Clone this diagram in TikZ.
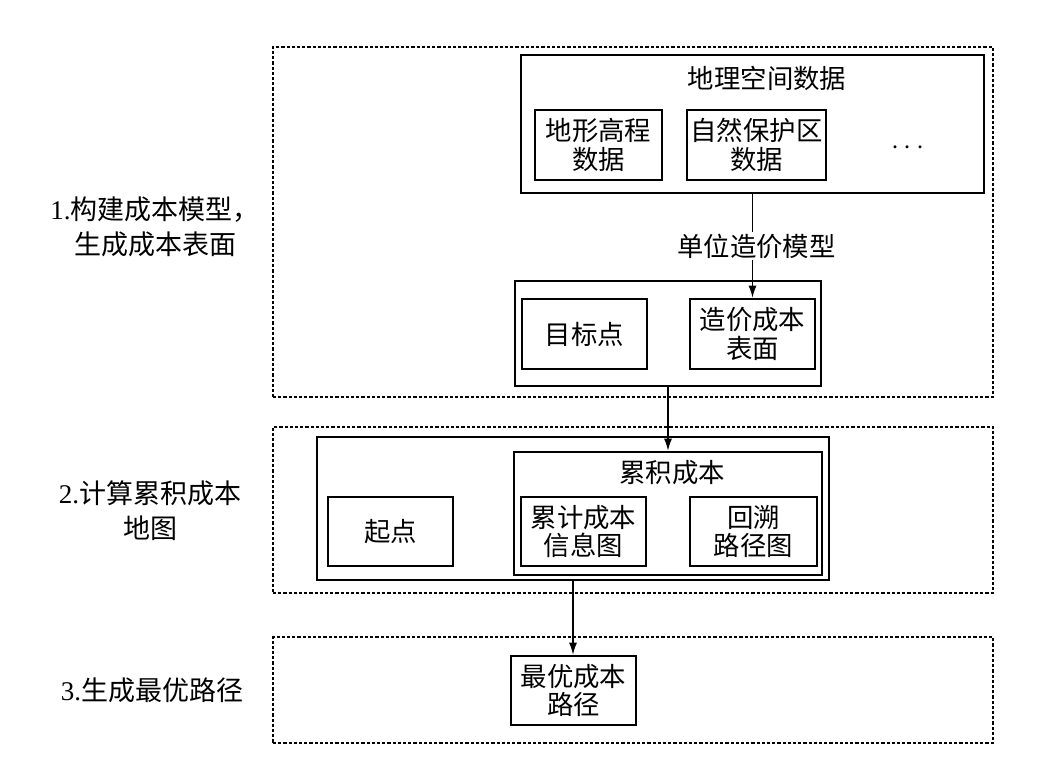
\documentclass[tikz,border=0pt]{standalone}
\usepackage{fontspec}
\setmainfont{Liberation Serif}
\newfontfamily\cjk{Noto Sans CJK SC}
\usetikzlibrary{arrows.meta}

\begin{document}
\begin{tikzpicture}[x=0.5pt,y=-0.5pt,
	caixa/.style={draw, line width=1.3pt, inner sep=0pt, align=center, font=\cjk\fontsize{13.2}{14.2}\selectfont},
	etapa/.style={draw, line width=0.7pt, dash pattern=on 1.6pt off 1pt, inner sep=0pt},
	texto/.style={align=center, inner sep=1pt, font=\cjk\fontsize{13.2}{14.2}\selectfont},
	lado/.style={align=center, font=\cjk\fontsize{13.5}{17.5}\selectfont},
	seta/.style={-{Latex[length=6pt,width=4pt]}, line width=0.6pt}]
\useasboundingbox (0,0) rectangle (1044,763); %Margens
					%Etapas
				\node[etapa, minimum width=360pt, minimum height=175pt] (e1) at (633,222) {}; %Etapa 1
				\node[etapa, minimum width=360pt, minimum height=83pt] (e2) at (633,510) {}; %Etapa 2
				\node[etapa, minimum width=360pt, minimum height=53pt] (e3) at (633,690) {}; %Etapa 3
				\node[lado] (r1) at (155,227) {\textrm{1.}构建成本模型，\\生成成本表面}; %Rotulo 1
				\node[lado] (r2) at (150,511) {\textrm{2.}计算累积成本\\地图}; %Rotulo 2
				\node[lado] (r3) at (152,690) {\textrm{3.}生成最优路径}; %Rotulo 3
					%Etapa 1
				\node[caixa, minimum width=231.5pt, minimum height=69pt] (geo) at (752.5,124) {}; %Dados geograficos
				\node[texto] (tgeo) at (767,78) {地理空间数据};
				\node[caixa, minimum width=63.5pt, minimum height=35pt] (dem) at (598.5,145) {地形高程\\数据};
				\node[caixa, minimum width=69.5pt, minimum height=35pt] (prot) at (756.5,145) {自然保护区\\数据};
				\node[font=\fontsize{15}{15}\selectfont] (dots) at (908,148) {$\cdots$};
				\node[caixa, minimum width=153pt, minimum height=52.5pt] (cm) at (668,333.5) {}; %Modelo de custo
				\node[caixa, minimum width=62.5pt, minimum height=35pt] (alvo) at (584.5,334) {目标点};
				\node[caixa, minimum width=62.5pt, minimum height=35pt] (sup) at (752.5,334) {造价成本\\表面};
				\draw[seta] (geo.south) -- node[texto, fill=white, xshift=2pt] (unit) {单位造价模型} (sup.north); %Seta 1
					%Etapa 2
				\node[caixa, minimum width=256pt, minimum height=71.5pt] (acum) at (573,508.5) {};
				\node[caixa, minimum width=154pt, minimum height=61.5pt] (acc) at (668,513.5) {}; %Custo acumulado
				\node[texto] (tacc) at (672,473) {累积成本};
				\node[caixa, minimum width=62.5pt, minimum height=34.5pt] (ini) at (390.5,531.5) {起点};
				\node[caixa, minimum width=62.5pt, minimum height=34.5pt] (mapa) at (583.5,531.5) {累计成本\\信息图};
				\node[caixa, minimum width=63.5pt, minimum height=34.5pt] (back) at (753.5,531.5) {回溯\\路径图};
				\draw[seta] (cm.south) -- (acc.north); %Seta 2
					%Etapa 3
				\node[caixa, minimum width=62.5pt, minimum height=34.5pt] (rota) at (573.5,690.5) {最优成本\\路径};
				\draw[seta] (acum.south) -- (acum.south |- rota.north); %Seta 3
\end{tikzpicture}
\end{document}
